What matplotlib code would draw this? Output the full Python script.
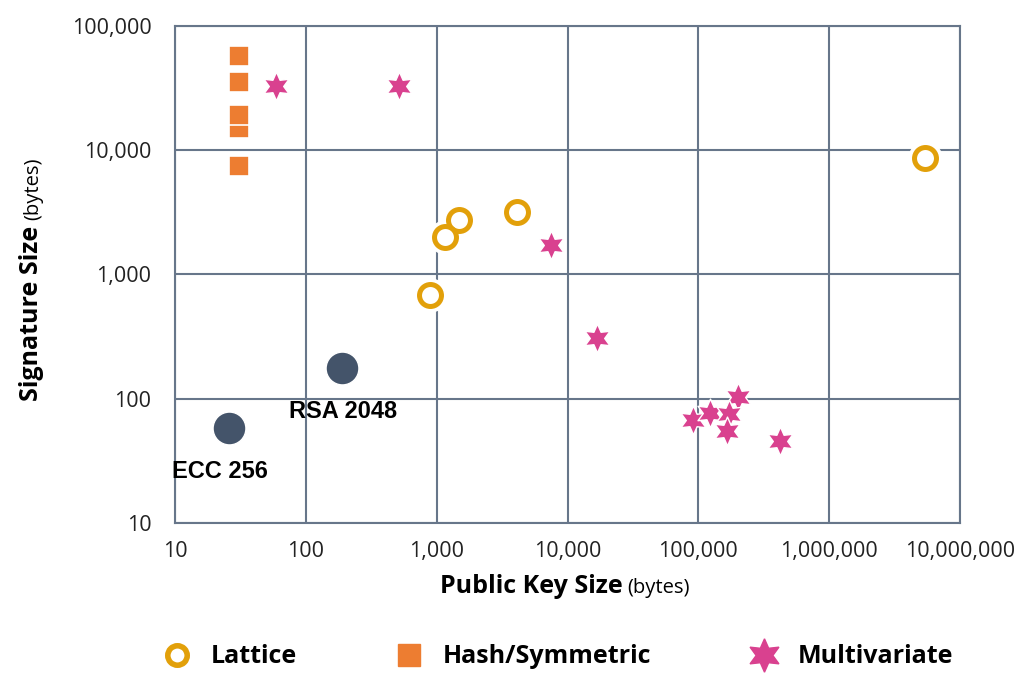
import matplotlib.pyplot as plt
import numpy as np
from matplotlib.lines import Line2D

# dados (bytes)
lattice_pk = [5420000, 4120, 1480, 1160, 890]
lattice_sig = [8630, 3180, 2740, 2000, 683]

hash_pk = [31, 31, 31, 31, 31]
hash_sig = [7500, 15000, 19150, 35300, 57100]

multi_pk = [59, 516, 7500, 16800, 201000, 91300, 123000, 172000, 166000, 422000]
multi_sig = [32800, 32800, 1725, 308, 103, 67, 77, 75, 55, 46]

classic_names = ["ECC 256", "RSA 2048"]
classic_pk = [26, 189]
classic_sig = [58, 177]

gold = "#E2A00A"
orange = "#ED7D31"
magenta = "#D9418F"
slate = "#44546A"
grid = "#67768A"

plt.rcParams['font.family'] = ['Open Sans', 'DejaVu Sans']

fig = plt.figure(figsize=(10.21, 6.75), dpi=100)
ax = fig.add_axes([0.1714, 0.2252, 0.7689, 0.7363])
ax.set_xscale('log')
ax.set_yscale('log')
ax.set_xlim(10, 1e7)
ax.set_ylim(10, 1e5)

ax.grid(True, which='major', color=grid, linewidth=1.5, zorder=0)
ax.minorticks_off()
for s in ax.spines.values():
    s.set_color(grid)
    s.set_linewidth(1.5)
ax.tick_params(length=0, labelsize=15.5, labelcolor="#222222")
ax.tick_params(axis='x', pad=13)
ax.tick_params(axis='y', pad=17)
ax.xaxis.set_major_formatter(plt.FuncFormatter(lambda v, p: f"{v:,.0f}"))
ax.yaxis.set_major_formatter(plt.FuncFormatter(lambda v, p: f"{v:,.0f}"))

# classicos
ax.scatter(classic_pk, classic_sig, s=560, color=slate, edgecolors='white', linewidths=1, zorder=3)
ax.annotate(classic_names[0], (classic_pk[0], classic_sig[0]), xytext=(-9, -43),
            textcoords='offset pixels', ha='center', va='center', fontsize=17,
            fontweight='bold', family='Liberation Sans', zorder=5)
ax.annotate(classic_names[1], (classic_pk[1], classic_sig[1]), xytext=(1, -44),
            textcoords='offset pixels', ha='center', va='center', fontsize=17,
            fontweight='bold', family='Liberation Sans', zorder=5)

# hash
ax.scatter(hash_pk, hash_sig, s=210, marker='s', color=orange, edgecolors='white', linewidths=1.2, zorder=3)

# lattice (anel com contorno branco)
ax.scatter(lattice_pk, lattice_sig, s=560, marker='o', color='white', zorder=3)
ax.scatter(lattice_pk, lattice_sig, s=250, marker='o', facecolor='white', edgecolors=gold, linewidths=3.6, zorder=4)

# multivariada
ax.scatter(multi_pk, multi_sig, s=430, marker=(6, 1, 0), color=magenta, edgecolors='white', linewidths=1, zorder=4)

# rotulos dos eixos
fig.text(623 / 1021, 1 - 593 / 675, "Public Key Size", ha='right', va='baseline',
         fontsize=18, fontweight='bold')
fig.text(627 / 1021, 1 - 593 / 675, "(bytes)", ha='left', va='baseline', fontsize=14.5)
fig.text(38 / 1021, 1 - 226 / 675, "Signature Size", ha='right', va='baseline',
         rotation=90, rotation_mode='anchor', fontsize=18, fontweight='bold')
fig.text(38 / 1021, 1 - 220 / 675, "(bytes)", ha='left', va='baseline',
         rotation=90, rotation_mode='anchor', fontsize=14.5)

handles = [
    Line2D([], [], marker='o', linestyle='', markersize=14, markerfacecolor='white',
           markeredgecolor=gold, markeredgewidth=4),
    Line2D([], [], marker='s', linestyle='', markersize=16, color=orange),
    Line2D([], [], marker=(6, 1, 0), linestyle='', markersize=24, color=magenta),
]
fig.legend(handles, ["Lattice", "Hash/Symmetric", "Multivariate"], ncol=3, loc='center',
           bbox_to_anchor=(0.541, 0.027), frameon=False, columnspacing=3.5, handletextpad=0.35,
           prop={'size': 18, 'weight': 'bold'})

plt.savefig("out.png", dpi=100)
